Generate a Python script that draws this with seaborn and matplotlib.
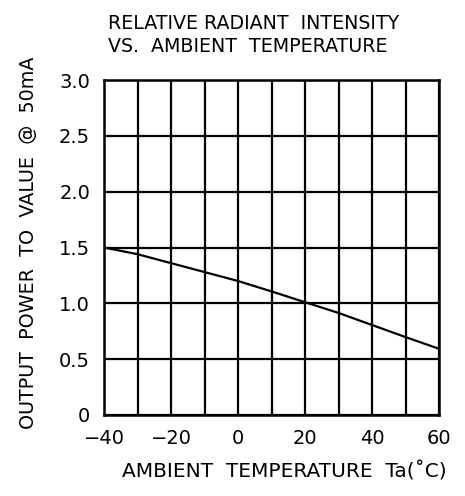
import matplotlib
matplotlib.use("Agg")
import matplotlib.pyplot as plt
import seaborn as sns
import pandas as pd

# Data
temperature = [-40, -30, -20, -10, 0, 10, 20, 30, 40, 50, 60]
output_power = [1.50, 1.44, 1.36, 1.28, 1.20, 1.107, 1.01, 0.914, 0.806, 0.698, 0.593]

x_ticks = [-40, -30, -20, -10, 0, 10, 20, 30, 40, 50, 60]
x_tick_labels = ["\u221240", "", "\u221220", "", "0", "", "20", "", "40", "", "60"]
y_ticks = [0, 0.5, 1.0, 1.5, 2.0, 2.5, 3.0]
y_tick_labels = ["0", "0.5", "1.0", "1.5", "2.0", "2.5", "3.0"]

title = "RELATIVE RADIANT  INTENSITY\nVS.  AMBIENT  TEMPERATURE"
x_label = "AMBIENT  TEMPERATURE  Ta(\u02daC)"
y_label = "OUTPUT  POWER  TO  VALUE  @  50mA"

df = pd.DataFrame({"temp": temperature, "power": output_power})

sns.set_style("white")
plt.rcParams["font.family"] = ["DejaVu Sans"]
plt.rcParams["text.color"] = "black"
plt.rcParams["axes.labelcolor"] = "black"
plt.rcParams["xtick.color"] = "black"
plt.rcParams["ytick.color"] = "black"

fig = plt.figure(figsize=(4.65, 4.96), dpi=100)
ax = fig.add_axes([104 / 465, 1 - 415 / 496, (439 - 104) / 465, (415 - 80) / 496])

sns.lineplot(data=df, x="temp", y="power", ax=ax, color="black", linewidth=1.6)

ax.set_xlim(-40, 60)
ax.set_ylim(0, 3.0)
ax.set_xticks(x_ticks)
ax.set_xticklabels(x_tick_labels, fontsize=14)
ax.set_yticks(y_ticks)
ax.set_yticklabels(y_tick_labels, fontsize=14)
ax.tick_params(axis="both", length=0, pad=10)
ax.grid(True, color="black", linewidth=1.6)
for s in ax.spines.values():
    s.set_color("black")
    s.set_linewidth(1.8)

ax.set_xlabel(x_label, fontsize=14.5)
ax.xaxis.set_label_coords((284 - 104) / 335, (415 - 461) / 335)
ax.set_ylabel(y_label, fontsize=13.8)
ax.yaxis.set_label_coords((38 - 104) / 335, (415 - 243) / 335)

fig.text(108 / 465, 1 - 14 / 496, title, fontsize=13.7, ha="left", va="top",
         linespacing=1.25)

fig.savefig("out.png", dpi=100)
